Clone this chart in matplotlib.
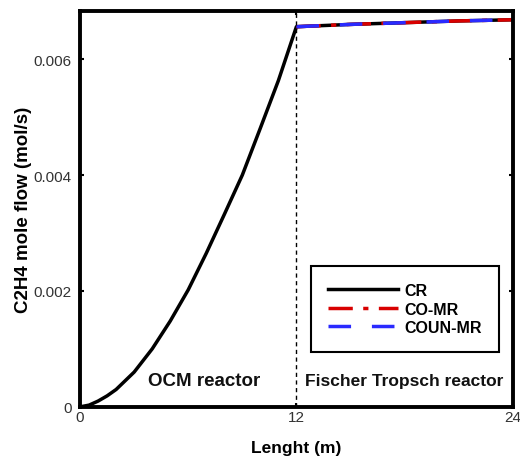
import matplotlib
matplotlib.use("Agg")
import matplotlib.pyplot as plt

plt.rcParams['font.family'] = ['Liberation Sans', 'DejaVu Sans']

# OCM reactor section (0-12 m): all configurations share the same profile
length_ocm = [0, 0.5, 1, 1.5, 2, 3, 4, 5, 6, 7, 8, 9, 10, 11, 12]
flow_ocm = [0.0, 0.00003, 0.00010, 0.00019, 0.00030, 0.00060, 0.00100,
            0.00148, 0.00202, 0.00265, 0.00332, 0.00400, 0.00481,
            0.00563, 0.00656]

# Fischer Tropsch reactor section (12-24 m)
length_ft = [12, 15, 18, 21, 24]
flow_cr_ft = [0.00656, 0.00660, 0.00663, 0.00666, 0.00668]
flow_comr_ft = [0.00656, 0.00660, 0.00663, 0.00666, 0.00668]
flow_counmr_ft = [0.00656, 0.00660, 0.00663, 0.00666, 0.00668]

series_labels = ["CR", "CO-MR", "COUN-MR"]
x_ticks = [0, 12, 24]
y_ticks = [0, 0.002, 0.004, 0.006]
y_tick_labels = ["0", "0.002", "0.004", "0.006"]

fig = plt.figure(figsize=(5.2, 4.64), dpi=100)
ax = fig.add_axes([0.154, 0.121, 0.832, 0.853])

cr_x = length_ocm + length_ft[1:]
cr_y = flow_ocm + flow_cr_ft[1:]
ax.plot(cr_x, cr_y, color="black", lw=2.5, label=series_labels[0],
        solid_joinstyle="round")
ax.plot(length_ft, flow_comr_ft, color="#d80000", lw=2.5,
        dashes=(7.0, 3.0, 1.5, 3.0), label=series_labels[1])
ax.plot(length_ft, flow_counmr_ft, color="#2a2aff", lw=2.5,
        dashes=(6.5, 6.0), label=series_labels[2])

ax.axvline(12, color="black", lw=1.0, ls=(0, (3, 2.5)))

ax.set_xlim(0, 24)
ax.set_ylim(0, 0.00683)
ax.set_xticks(x_ticks)
ax.set_xticklabels([str(t) for t in x_ticks])
ax.set_yticks(y_ticks)
ax.set_yticklabels(y_tick_labels)
ax.tick_params(direction="in", length=3, width=1.5, labelsize=11,
               labelcolor="#333333", top=True, right=True, pad=2)
ax.tick_params(axis="y", pad=6)

for s in ax.spines.values():
    s.set_linewidth(2.8)

ax.set_xlabel("Lenght (m)", fontsize=12.5, fontweight="bold", labelpad=12)
ax.set_ylabel("C2H4 mole flow (mol/s)", fontsize=13.5, fontweight="bold")
ax.yaxis.set_label_coords(-0.112, 0.5)

ax.text(6.9, 0.00045, "OCM reactor", fontsize=13.5, fontweight="bold",
        ha="center", va="center", color="#111111")
ax.text(18.0, 0.00045, "Fischer Tropsch reactor", fontsize=12.5,
        fontweight="bold", ha="center", va="center", color="#111111")

leg = ax.legend(loc="lower right", bbox_to_anchor=(0.968, 0.139),
                prop={"weight": "bold", "size": 11.5},
                handlelength=4.4, handletextpad=0.4, labelspacing=0.22,
                borderpad=1.05, borderaxespad=0, fancybox=False,
                framealpha=1, edgecolor="black")
leg.get_frame().set_linewidth(1.5)

fig.savefig("out.png", dpi=100)
